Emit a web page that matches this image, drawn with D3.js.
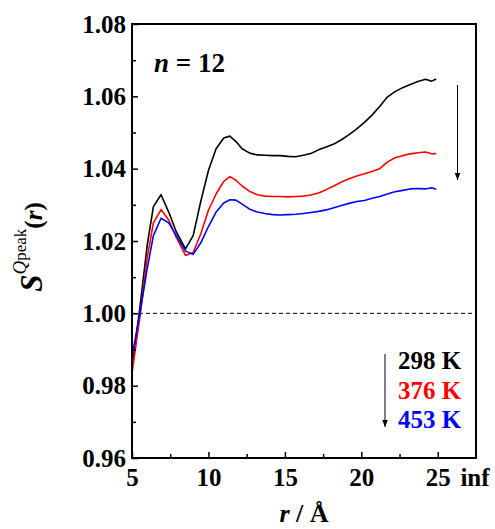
<!DOCTYPE html>
<html>
<head>
<meta charset="UTF-8">
<style>
  body { margin: 0; background: #fff; }
  svg { display: block; }
  svg text { font-family: "Liberation Serif", "Times New Roman", Tinos, Times, "DejaVu Serif", serif !important; font-weight: bold; fill: #000; }
</style>
</head>
<body>
<svg id="chart" width="495" height="529"></svg>
<script src="https://d3js.org/d3.v7.min.js"></script>
<script>
// r values (Å) shared by the three curves
const rVals = [5.0, 5.5, 6.0, 6.4, 6.9, 7.4, 7.9, 8.5, 9.0, 9.5, 10.0, 10.5, 11.0, 11.4, 11.8, 12.2, 12.7, 13.2, 13.7, 14.2,
  14.7, 15.2, 15.7, 16.2, 16.7, 17.2, 17.7, 18.2, 18.7, 19.2, 19.7, 20.2, 20.7, 21.2, 21.7, 22.2, 22.7, 23.2, 23.7, 24.2, 24.6, 24.9];

const s298 = [0.985, 1.001, 1.019, 1.0295, 1.0328, 1.0280, 1.0225, 1.0178, 1.0215, 1.0310, 1.0395, 1.0455, 1.0485, 1.0490, 1.0475, 1.0455, 1.0443, 1.0438, 1.0437, 1.0436,
  1.0436, 1.0434, 1.0433, 1.0437, 1.0442, 1.0452, 1.0460, 1.0468, 1.0480, 1.0494, 1.0510, 1.0528, 1.0548, 1.0572, 1.0598, 1.0613, 1.0624, 1.0633, 1.0641, 1.0647, 1.0642, 1.0648];
const s376 = [0.9834, 0.9985, 1.0155, 1.0250, 1.0287, 1.0258, 1.0210, 1.0160, 1.0168, 1.0220, 1.0285, 1.0330, 1.0365, 1.0378, 1.0368, 1.0352, 1.0337, 1.0328, 1.0324, 1.0323,
  1.0323, 1.0322, 1.0323, 1.0324, 1.0327, 1.0333, 1.0342, 1.0352, 1.0363, 1.0372, 1.0380, 1.0386, 1.0392, 1.0400, 1.0418, 1.0430, 1.0436, 1.0441, 1.0444, 1.0446, 1.0441, 1.0442];
const s453 = [0.988, 0.9995, 1.0125, 1.0215, 1.0263, 1.0250, 1.0215, 1.0172, 1.0163, 1.0195, 1.0240, 1.0280, 1.0305, 1.0314, 1.0313, 1.0302, 1.0288, 1.0280, 1.0276, 1.0273,
  1.0272, 1.0273, 1.0274, 1.0276, 1.0279, 1.0282, 1.0286, 1.0292, 1.0298, 1.0304, 1.0309, 1.0312, 1.0318, 1.0323, 1.0330, 1.0336, 1.0340, 1.0344, 1.0345, 1.0344, 1.0347, 1.0343];

const seriesNames = ["298 K", "376 K", "453 K"];
const seriesColors = ["#000000", "#ff0000", "#0000ff"];
const xTicks = [5, 10, 15, 20, 25];
const xMinor = [7.5, 12.5, 17.5, 22.5];
const yTicks = [0.96, 0.98, 1.00, 1.02, 1.04, 1.06, 1.08];
const yMinor = [0.97, 0.99, 1.01, 1.03, 1.05, 1.07];

const svg = d3.select("#chart");
const mLeft = 132, mRight = 476, mTop = 24, mBottom = 458;

const x = d3.scaleLinear().domain([5, 27.5]).range([mLeft, mRight]);
const y = d3.scaleLinear().domain([0.96, 1.08]).range([mBottom, mTop]);

// reference line at 1.00
svg.append("line")
  .attr("x1", x(5)).attr("x2", x(27.3))
  .attr("y1", y(1)).attr("y2", y(1))
  .attr("stroke", "#000").attr("stroke-width", 1)
  .attr("stroke-dasharray", "4,3");

// curves
const line = d3.line().x((d, i) => x(rVals[i])).y(d => y(d));
[s298, s376, s453].forEach((s, i) => {
  svg.append("path")
    .datum(s)
    .attr("fill", "none")
    .attr("stroke", seriesColors[i])
    .attr("stroke-width", 1.6)
    .attr("stroke-linejoin", "round")
    .attr("d", line);
});

// frame
svg.append("rect")
  .attr("x", mLeft).attr("y", mTop)
  .attr("width", mRight - mLeft).attr("height", mBottom - mTop)
  .attr("fill", "none").attr("stroke", "#000").attr("stroke-width", 2);

// axes with inward ticks
const xAxis = svg.append("g").attr("transform", `translate(0,${mBottom})`)
  .call(d3.axisBottom(x).tickValues(xTicks).tickSizeInner(-6).tickSizeOuter(0).tickFormat(d3.format("d")));
svg.append("g").attr("transform", `translate(0,${mBottom})`)
  .call(d3.axisBottom(x).tickValues(xMinor).tickSizeInner(-4).tickSizeOuter(0).tickFormat(""));
const yAxis = svg.append("g").attr("transform", `translate(${mLeft},0)`)
  .call(d3.axisLeft(y).tickValues(yTicks).tickSizeInner(-6).tickSizeOuter(0).tickFormat(d3.format(".2f")));
svg.append("g").attr("transform", `translate(${mLeft},0)`)
  .call(d3.axisLeft(y).tickValues(yMinor).tickSizeInner(-4).tickSizeOuter(0).tickFormat(""));

svg.selectAll(".domain").remove();
svg.selectAll("g").attr("font-family", null);
svg.selectAll(".tick line").attr("stroke", "#000").attr("stroke-width", 1.5);
svg.selectAll(".tick text").attr("font-size", 25);
xAxis.selectAll(".tick text").attr("dy", null).attr("y", 28);
yAxis.selectAll(".tick text").attr("x", -6).attr("dy", "0.33em");

// "inf" label at the end of the x axis
svg.append("text")
  .attr("x", x(27.5) - 1).attr("y", mBottom + 28)
  .attr("text-anchor", "middle").attr("font-size", 25)
  .text("inf");

// axis titles
svg.append("text")
  .attr("x", (mLeft + mRight) / 2).attr("y", 522)
  .attr("text-anchor", "middle").attr("font-size", 26)
  .call(t => {
    t.append("tspan").attr("font-style", "italic").text("r");
    t.append("tspan").text(" / Å");
  });

svg.append("text")
  .attr("transform", "translate(42,247) rotate(-90)")
  .attr("text-anchor", "middle")
  .call(t => {
    t.append("tspan").attr("font-size", 31).attr("font-style", "italic").text("S");
    t.append("tspan").attr("font-size", 19).attr("font-style", "italic").style("font-weight", "normal").attr("dy", -16).text("Q");
    t.append("tspan").attr("font-size", 17).style("font-weight", "normal").text("peak");
    t.append("tspan").attr("font-size", 25).attr("dy", 16).text("(");
    t.append("tspan").attr("font-size", 25).attr("font-style", "italic").text("r");
    t.append("tspan").attr("font-size", 25).text(")");
  });

// n = 12
svg.append("text")
  .attr("x", 154).attr("y", 72).attr("font-size", 27)
  .call(t => {
    t.append("tspan").attr("font-style", "italic").text("n");
    t.append("tspan").text(" = 12");
  });

// arrows
const defs = svg.append("defs");
defs.append("marker")
  .attr("id", "head").attr("viewBox", "0 0 10 10")
  .attr("refX", 10).attr("refY", 5)
  .attr("markerWidth", 7).attr("markerHeight", 7)
  .attr("markerUnits", "userSpaceOnUse")
  .attr("orient", "auto")
  .append("path").attr("d", "M0,1 L10,5 L0,9 Z").attr("fill", "#000");

function arrow(xp, y1, y2) {
  svg.append("line")
    .attr("x1", xp).attr("x2", xp).attr("y1", y1).attr("y2", y2)
    .attr("stroke", "#000").attr("stroke-width", 1)
    .attr("marker-end", "url(#head)");
}
arrow(457.5, 85, 180);
arrow(385, 354, 427);

// legend
seriesNames.forEach((name, i) => {
  svg.append("text")
    .attr("x", 398).attr("y", 369 + i * 29.5)
    .attr("font-size", 25)
    .style("fill", seriesColors[i])
    .text(name);
});
</script>
</body>
</html>
